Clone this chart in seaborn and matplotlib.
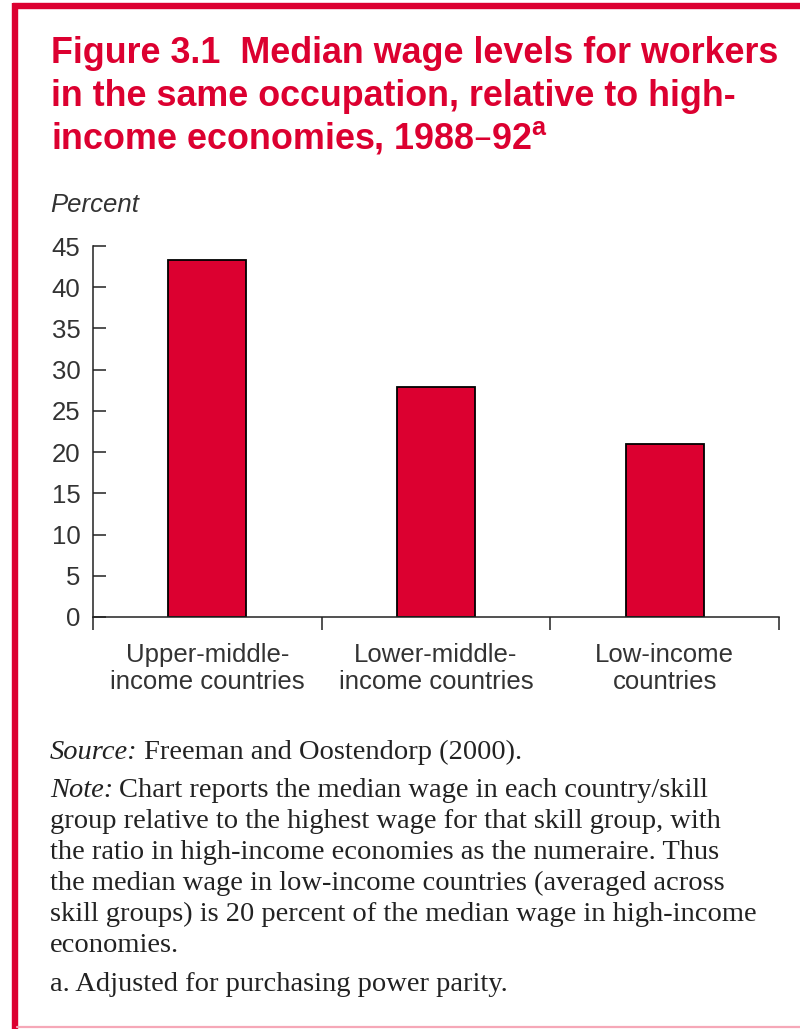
import matplotlib
matplotlib.use("Agg")
import matplotlib.pyplot as plt
from matplotlib.lines import Line2D
import pandas as pd
import seaborn as sns

# data
categories = ["Upper-middle-\nincome countries",
              "Lower-middle-\nincome countries",
              "Low-income\ncountries"]
wage_pct = [43.3, 27.9, 21.0]
y_ticks = [0, 5, 10, 15, 20, 25, 30, 35, 40, 45]

df = pd.DataFrame({"group": categories, "pct": wage_pct})

RED = "#DC0030"
W, H = 800, 1029

sns.set_style("white")
plt.rcParams["font.family"] = ["Liberation Sans", "DejaVu Sans"]

fig = plt.figure(figsize=(W / 100, H / 100), dpi=100)
fig.patch.set_facecolor("white")

def fx(px):
    return px / W

def fy(py):
    return 1 - py / H

# axes box: x from 93 to 779 px, y from 246 (45) to 617 (0)
ax = fig.add_axes([fx(93), fy(617), fx(779) - fx(93), fy(246) - fy(617)])
sns.barplot(data=df, x="group", y="pct", order=categories, color=RED,
            width=0.34, edgecolor="black", linewidth=1.3, saturation=1,
            ax=ax)
ax.set_xlim(-0.5, 2.5)
ax.set_ylim(0, 45)
ax.set_xlabel("")
ax.set_ylabel("")
for s in ["top", "right"]:
    ax.spines[s].set_visible(False)
for s in ["left", "bottom"]:
    ax.spines[s].set_linewidth(1.1)
    ax.spines[s].set_color("#222222")

ax.set_yticks(y_ticks)
ax.set_yticklabels([str(v) for v in y_ticks])
ax.tick_params(axis="y", left=True, direction="in", length=9.5, width=1.1,
               color="#222222", pad=9, labelsize=18.5, labelcolor="#333333")

ax.set_xticks([-0.5, 0.5, 1.5, 2.5])
ax.set_xticklabels([])
ax.tick_params(axis="x", which="major", bottom=True, direction="out",
               length=9.5, width=1.1, color="#222222")
ax.set_xticks(range(len(categories)), minor=True)
ax.set_xticklabels(categories, minor=True, fontsize=18.5, color="#333333",
                   linespacing=1.12)
ax.tick_params(axis="x", which="minor", bottom=True, length=0, pad=19)

# title
title_lines = ["Figure 3.1  Median wage levels for workers",
               "in the same occupation, relative to high-",
               "income economies, 1988\u201392$^{\\mathregular{a}}$"]
for i, line in enumerate(title_lines):
    fig.text(fx(51), fy(63 + i * 42.5), line, color=RED, fontsize=25.8,
             fontweight="bold", ha="left", va="baseline")

fig.text(fx(50), fy(205), "Percent", fontsize=18.5, style="italic",
         color="#333333", ha="left", va="center")

# notes
serif = ["Liberation Serif", "DejaVu Serif"]
NS = 20.5
renderer = fig.canvas.get_renderer()

def mixed(y, italic_part, rest):
    t = fig.text(fx(50), fy(y), italic_part, family=serif, style="italic",
                 fontsize=NS, color="#222222", ha="left", va="baseline")
    bb = t.get_window_extent(renderer)
    fig.text(bb.x1 / W + fx(6), fy(y), rest, family=serif, fontsize=NS,
             color="#222222", ha="left", va="baseline")

mixed(759, "Source:", "Freeman and Oostendorp (2000).")
mixed(797, "Note:", "Chart reports the median wage in each country/skill")
note_lines = ["group relative to the highest wage for that skill group, with",
              "the ratio in high-income economies as the numeraire. Thus",
              "the median wage in low-income countries (averaged across",
              "skill groups) is 20 percent of the median wage in high-income",
              "economies."]
for i, line in enumerate(note_lines):
    fig.text(fx(50), fy(797 + (i + 1) * 31), line, family=serif,
             fontsize=NS, color="#222222", ha="left", va="baseline")
fig.text(fx(50), fy(991), "a. Adjusted for purchasing power parity.",
         family=serif, fontsize=NS, color="#222222", ha="left", va="baseline")

# frame around the panel
fig.add_artist(Line2D([fx(15), fx(15)], [fy(3), 0], color=RED, lw=4.6,
                      transform=fig.transFigure, solid_capstyle="butt"))
fig.add_artist(Line2D([fx(12.7), 1], [fy(6), fy(6)], color=RED, lw=4.6,
                      transform=fig.transFigure, solid_capstyle="butt"))
fig.add_artist(Line2D([fx(17), 1], [fy(1027), fy(1027)], color="#F6A8B8",
                      lw=1.6, transform=fig.transFigure))

fig.savefig("out.png", dpi=100)
